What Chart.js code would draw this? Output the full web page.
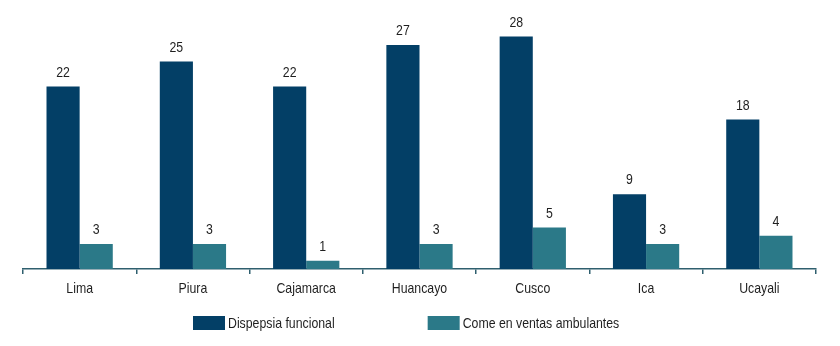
<!DOCTYPE html>
<html lang="es">
<head>
  <meta charset="UTF-8">
  <title>Dispepsia funcional y ventas ambulantes</title>
  <script src="https://cdn.jsdelivr.net/npm/chart.js"></script>
  <style>
    html, body { margin: 0; padding: 0; background: #fff; }
    .chart-box { width: 840px; height: 346px; }
  </style>
</head>
<body>
  <div class="chart-box">
    <canvas id="grafico"></canvas>
  </div>
  <script>
    // Datos
    const ciudades = ['Lima', 'Piura', 'Cajamarca', 'Huancayo', 'Cusco', 'Ica', 'Ucayali'];
    const dispepsia = [22, 25, 22, 27, 28, 9, 18];
    const ambulantes = [3, 3, 1, 3, 5, 3, 4];
    const series = ['Dispepsia funcional', 'Come en ventas ambulantes'];

    const FUENTE = "'Liberation Sans', Arial, sans-serif";
    const ANGOSTO = 0.82; // no hay Arial Narrow: se comprime el texto a mano
    const TEXTO = '#1f1f1f';

    function textoAngosto(ctx, txt, x, y) {
      ctx.save();
      ctx.translate(x, y);
      ctx.scale(ANGOSTO, 1);
      ctx.fillText(txt, 0, 0);
      ctx.restore();
    }

    // Valores encima de cada barra y nombres de las ciudades
    const etiquetas = {
      id: 'etiquetas',
      afterDatasetsDraw(chart) {
        const ctx = chart.ctx;
        ctx.save();
        ctx.font = '15px ' + FUENTE;
        ctx.fillStyle = TEXTO;
        ctx.textAlign = 'center';
        ctx.textBaseline = 'middle';
        chart.data.datasets.forEach((ds, i) => {
          chart.getDatasetMeta(i).data.forEach((bar, j) => {
            textoAngosto(ctx, ds.data[j], bar.x, bar.y - 14);
          });
        });
        const ejeX = chart.scales.x;
        chart.data.labels.forEach((lab, i) => {
          textoAngosto(ctx, lab, ejeX.getPixelForValue(i), ejeX.top + 20);
        });
        ctx.restore();
      }
    };

    // Leyenda dibujada a mano (separacion amplia entre elementos)
    const leyenda = {
      id: 'leyenda',
      afterDraw(chart) {
        const ctx = chart.ctx;
        ctx.save();
        ctx.font = '15px ' + FUENTE;
        ctx.textBaseline = 'middle';
        ctx.textAlign = 'left';
        let x = 193;
        const y = 323;
        chart.data.datasets.forEach(ds => {
          ctx.fillStyle = ds.backgroundColor;
          ctx.fillRect(x, y - 7, 32, 14);
          ctx.fillStyle = TEXTO;
          textoAngosto(ctx, ds.label, x + 35, y + 1);
          x += 35 + ctx.measureText(ds.label).width * ANGOSTO + 93;
        });
        ctx.restore();
      }
    };

    const grafico = new Chart(document.getElementById('grafico'), {
      type: 'bar',
      data: {
        labels: ciudades,
        datasets: [
          { label: series[0], data: dispepsia, backgroundColor: '#033f66' },
          { label: series[1], data: ambulantes, backgroundColor: '#2b7988' }
        ]
      },
      options: {
        responsive: true,
        maintainAspectRatio: false,
        animation: false,
        categoryPercentage: 0.585,
        barPercentage: 1,
        layout: { padding: { left: 23, right: 24, top: 20, bottom: 48 } },
        plugins: {
          legend: { display: false },
          tooltip: { enabled: false }
        },
        scales: {
          x: {
            grid: {
              offset: true,
              drawOnChartArea: false,
              drawTicks: true,
              tickLength: 5,
              color: '#2f5f6e',
              lineWidth: 1.5
            },
            border: { display: true, color: '#2f5f6e', width: 1.5 },
            ticks: {
              color: 'rgba(0,0,0,0)',
              font: { family: FUENTE, size: 15 },
              padding: 3
            }
          },
          y: {
            display: false,
            min: 0,
            max: 30
          }
        }
      },
      plugins: [etiquetas, leyenda]
    });
  </script>
</body>
</html>
